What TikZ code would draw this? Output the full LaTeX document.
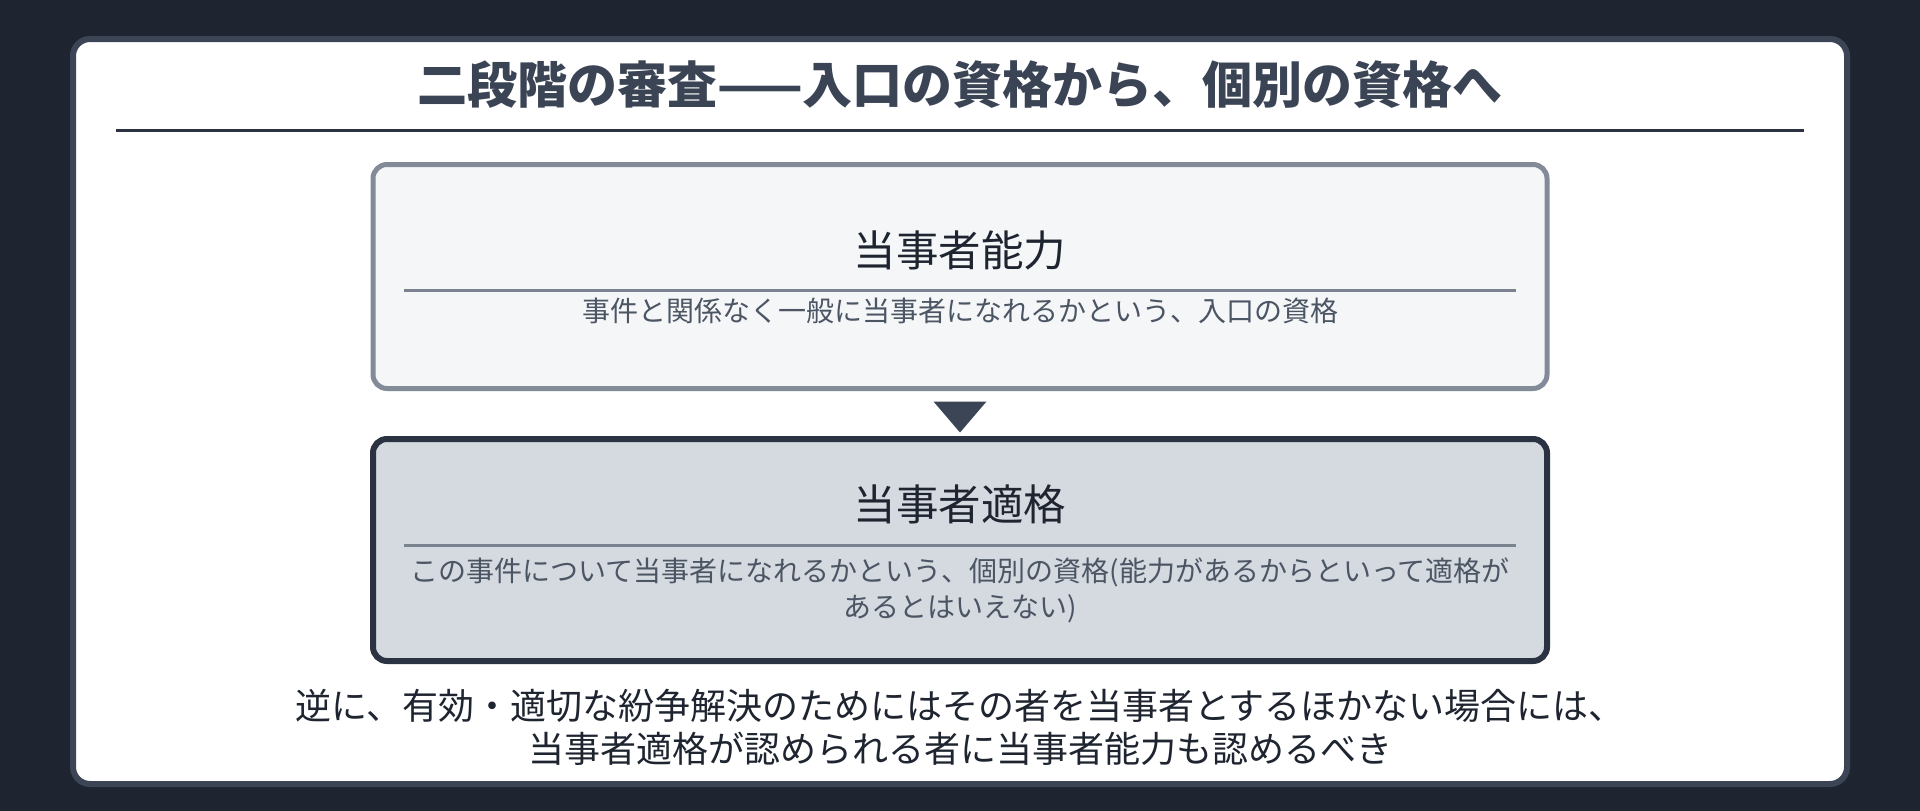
\documentclass[tikz,border=0pt]{standalone}
\usepackage{fontspec}
\setmainfont{Noto Sans CJK JP}
\usetikzlibrary{calc}
\definecolor{bgc}{HTML}{1F2530}
\definecolor{cardborder}{HTML}{3B4556}
\definecolor{titlec}{HTML}{3A4454}
\definecolor{rulec}{HTML}{2B3341}
\definecolor{boxaborder}{HTML}{838B99}
\definecolor{boxafill}{HTML}{F4F6F8}
\definecolor{boxbborder}{HTML}{2B3342}
\definecolor{boxbfill}{HTML}{D5D9E0}
\definecolor{innerrule}{HTML}{7B8391}
\definecolor{darktext}{HTML}{1F2530}
\definecolor{subtext}{HTML}{4B5563}
\begin{document}
\begin{tikzpicture}[x=1pt,y=-1pt,
  card/.style={draw=cardborder, line width=6pt, fill=white, rounded corners=17pt,
    minimum width=1774pt, minimum height=745pt, inner sep=0pt},
  stagebox/.style={rounded corners=14pt, minimum width=1174pt, minimum height=223pt, inner sep=0pt},
  boxa/.style={stagebox, draw=boxaborder, fill=boxafill, line width=5pt},
  boxb/.style={stagebox, draw=boxbborder, fill=boxbfill, line width=6pt},
  maintitle/.style={anchor=base, inner sep=0pt, text=titlec,
    font=\fontsize{50pt}{60pt}\selectfont\bfseries},
  boxtitle/.style={anchor=base, inner sep=0pt, text=darktext,
    font=\fontsize{42.5pt}{50pt}\selectfont},
  boxsub/.style={anchor=base, inner sep=0pt, text=subtext,
    font=\fontsize{28pt}{36pt}\selectfont},
  note/.style={anchor=base, inner sep=0pt, text=darktext,
    font=\fontsize{36pt}{43pt}\selectfont},
  titlerule/.style={draw=rulec, line width=3pt},
  boxrule/.style={draw=innerrule, line width=3pt},
  marker/.style={fill=cardborder}
]
\fill[bgc] (0,0) rectangle (1920,811);
\useasboundingbox (0,0) rectangle (1920,811);

\node[card] (card) at (960,411.5) {};

\node[maintitle] (title) at (960,103.5) {二段階の審査——入口の資格から、個別の資格へ};
\coordinate (trl) at (116,130.5);
\coordinate (trr) at (1804,130.5);
\draw[titlerule] (trl) -- (trr);

% stage 1
\node[boxa, minimum height=224pt] (boxa) at (960,276.5) {};
\node[boxtitle] (atitle) at (960,266.5) {当事者能力};
\coordinate (arl) at (404,290.3);
\coordinate (arr) at (1516,290.3);
\draw[boxrule] (arl) -- (arr);
\node[boxsub] (asub) at (960,321) {事件と関係なく一般に当事者になれるかという、入口の資格};

% stage 2
\node[boxb, minimum height=222pt] (boxb) at (960,550) {};
\node[boxtitle] (btitle) at (960,520.7) {当事者適格};
\coordinate (brl) at (404,545);
\coordinate (brr) at (1516,545);
\draw[boxrule] (brl) -- (brr);
\node[boxsub] (bsub1) at (960,581) {この事件について当事者になれるかという、個別の資格(能力があるからといって適格が};
\node[boxsub] (bsub2) at (960,617) {あるとはいえない)};

% marker between the stages
\fill[marker] ($(boxa.south)+(-26.5,10.5)$) -- ($(boxa.south)+(26.5,10.5)$) -- ($(boxa.south)+(0,41.5)$) -- cycle;

% closing note
\node[note] (note1) at (960,719) {逆に、有効・適切な紛争解決のためにはその者を当事者とするほかない場合には、};
\node[note] (note2) at (960,762) {当事者適格が認められる者に当事者能力も認めるべき};
\end{tikzpicture}
\end{document}
